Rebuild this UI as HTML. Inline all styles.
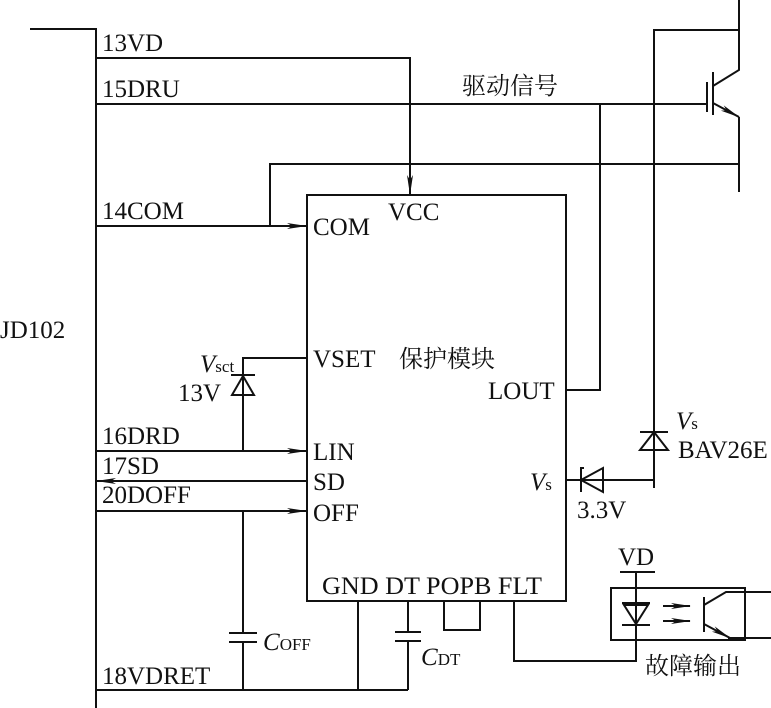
<!DOCTYPE html>
<html><head><meta charset="utf-8"><style>
html,body{margin:0;padding:0;background:#fff;}
svg{display:block;}
text{font-family:"Liberation Serif","Noto Serif CJK SC",serif;font-size:25px;fill:#111;}
.cn{font-family:"Liberation Serif","Noto Serif CJK SC",serif;font-size:24px;}
.s{font-size:17px;}
</style></head><body>
<svg width="771" height="708" viewBox="0 0 771 708" xmlns="http://www.w3.org/2000/svg">
<defs><marker id="a" markerWidth="20" markerHeight="8" refX="19" refY="4" orient="auto" markerUnits="userSpaceOnUse"><path d="M0,1 L20,4 L0,7 L5,4 Z" fill="#111"/></marker></defs>
<g stroke="#111" stroke-width="2" fill="none">
<polyline points="30,29 96,29 96,708"/>
<rect x="307" y="195" width="259" height="406"/>
<polyline points="96,58 410,58 410,194" marker-end="url(#a)"/>
<line x1="96" y1="104" x2="707" y2="104"/>
<line x1="707" y1="82" x2="707" y2="112"/>
<line x1="713" y1="72" x2="713" y2="115"/>
<polyline points="739,0 739,70 713,86"/>
<line x1="713" y1="103" x2="739" y2="117" marker-end="url(#a)"/>
<line x1="739" y1="117" x2="739" y2="192"/>
<polyline points="654,488 654,30 739,30"/>
<polyline points="739,164 270,164 270,226"/>
<line x1="96" y1="226" x2="306" y2="226" marker-end="url(#a)"/>
<polyline points="566,390 600,390 600,104"/>
<polyline points="306,358 243,358 243,451"/>
<line x1="231" y1="375" x2="255" y2="375"/>
<polygon points="243,376 232,395 254,395"/>
<line x1="96" y1="451" x2="306" y2="451" marker-end="url(#a)"/>
<line x1="306" y1="481" x2="97" y2="481" marker-end="url(#a)"/>
<line x1="96" y1="511" x2="306" y2="511" marker-end="url(#a)"/>
<polyline points="243,511 243,633"/>
<line x1="229" y1="633" x2="257" y2="633"/>
<line x1="229" y1="642" x2="257" y2="642"/>
<line x1="243" y1="642" x2="243" y2="690"/>
<polyline points="96,690 408,690"/>
<line x1="358" y1="601" x2="358" y2="690"/>
<line x1="408" y1="601" x2="408" y2="632"/>
<line x1="395" y1="632" x2="421" y2="632"/>
<line x1="395" y1="641" x2="421" y2="641"/>
<line x1="408" y1="641" x2="408" y2="690"/>
<polyline points="444,601 444,630 480,630 480,601"/>
<line x1="566" y1="480" x2="654" y2="480"/>
<polyline points="584,468 581,468 581,492"/>
<polygon points="581,480 603,468 603,492"/>
<line x1="640" y1="432" x2="668" y2="432"/>
<polygon points="654,432 640,450 668,450"/>
<polyline points="514,601 514,661 636,661 636,572"/>
<line x1="620" y1="572" x2="655" y2="572"/>
<rect x="611" y="588" width="134" height="52"/>
<line x1="622" y1="603" x2="650" y2="603"/>
<polygon points="624,605 648,605 636,624"/>
<line x1="622" y1="625" x2="650" y2="625"/>
<line x1="663" y1="606" x2="690" y2="606" marker-end="url(#a)"/>
<line x1="663" y1="621" x2="690" y2="621" marker-end="url(#a)"/>
<line x1="704" y1="597" x2="704" y2="632"/>
<polyline points="704,605 726,592 771,592"/>
<line x1="704" y1="624" x2="730" y2="638" marker-end="url(#a)"/>
<line x1="728" y1="638" x2="771" y2="638"/>
</g>
<g>
<text x="102" y="51">13VD</text>
<text x="102" y="97">15DRU</text>
<text class="cn" x="462" y="94">驱动信号</text>
<text x="102" y="219">14COM</text>
<text x="388" y="220">VCC</text>
<text x="313" y="235">COM</text>
<text x="0" y="338">JD102</text>
<text x="313" y="367">VSET</text>
<text class="cn" x="399" y="367">保护模块</text>
<text x="200" y="372"><tspan font-style="italic">V</tspan><tspan class="s">sct</tspan></text>
<text x="178" y="401">13V</text>
<text x="488" y="399">LOUT</text>
<text x="102" y="444">16DRD</text>
<text x="313" y="460">LIN</text>
<text x="102" y="474">17SD</text>
<text x="313" y="490">SD</text>
<text x="102" y="503">20DOFF</text>
<text x="313" y="521">OFF</text>
<text x="676" y="429"><tspan font-style="italic">V</tspan><tspan class="s">s</tspan></text>
<text x="678" y="458">BAV26E</text>
<text x="530" y="490"><tspan font-style="italic">V</tspan><tspan class="s">s</tspan></text>
<text x="577" y="518">3.3V</text>
<text x="618" y="565">VD</text>
<text x="322" y="594" textLength="220" lengthAdjust="spacingAndGlyphs">GND DT POPB FLT</text>
<text x="263" y="650"><tspan font-style="italic">C</tspan><tspan class="s">OFF</tspan></text>
<text x="421" y="665"><tspan font-style="italic">C</tspan><tspan class="s">DT</tspan></text>
<text x="102" y="684">18VDRET</text>
<text class="cn" x="645" y="674">故障输出</text>
</g>
</svg>
</body></html>
